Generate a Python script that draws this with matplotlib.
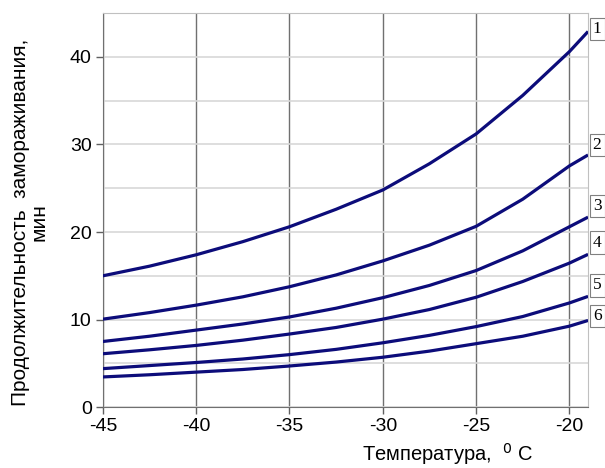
import matplotlib.pyplot as plt
import matplotlib.transforms as mtransforms

# Temperature points, deg C
temps = [-45, -42.5, -40, -37.5, -35, -32.5, -30, -27.5, -25, -22.5, -20, -19]

# Freezing duration, min (curves 1..6)
curve1 = [15.0, 16.1, 17.4, 18.9, 20.6, 22.6, 24.8, 27.8, 31.2, 35.6, 40.6, 42.9]
curve2 = [10.05, 10.8, 11.65, 12.6, 13.75, 15.1, 16.7, 18.5, 20.65, 23.75, 27.55, 28.8]
curve3 = [7.5, 8.1, 8.8, 9.5, 10.3, 11.3, 12.5, 13.9, 15.6, 17.85, 20.6, 21.7]
curve4 = [6.1, 6.55, 7.05, 7.65, 8.35, 9.1, 10.05, 11.15, 12.55, 14.35, 16.45, 17.45]
curve5 = [4.4, 4.75, 5.1, 5.5, 6.0, 6.6, 7.35, 8.2, 9.2, 10.35, 11.9, 12.65]
curve6 = [3.45, 3.7, 4.0, 4.3, 4.7, 5.15, 5.7, 6.4, 7.25, 8.1, 9.25, 9.9]

curves = [curve1, curve2, curve3, curve4, curve5, curve6]
labels = ["1", "2", "3", "4", "5", "6"]
label_y = [43.2, 29.9, 23.0, 18.8, 13.9, 10.4]

plt.rcParams['font.family'] = ['Liberation Sans', 'DejaVu Sans']
plt.rcParams['axes.unicode_minus'] = False

fig = plt.figure(figsize=(6.05, 4.68), dpi=100)
ax = fig.add_axes([0.170, 0.130, 0.802, 0.842])

for c in curves:
    ax.plot(temps, c, color='#0c0c7a', lw=2.3, solid_capstyle='butt',
            solid_joinstyle='round', zorder=3)

ax.set_xlim(-45, -19)
ax.set_ylim(0, 45)
ax.set_xticks([-45, -40, -35, -30, -25, -20])
ax.set_yticks([0, 10, 20, 30, 40])
ax.set_yticks([5, 15, 25, 35, 45], minor=True)
ax.tick_params(axis='both', labelsize=14, direction='out', length=5,
               color='#606060', width=1, pad=3)
ax.tick_params(axis='y', which='minor', length=0)

ax.grid(axis='y', which='both', color='#d8d8d8', lw=1.2)
ax.grid(axis='x', color='#707070', lw=1)
ax.set_axisbelow(True)

for side in ['left', 'bottom']:
    ax.spines[side].set_color('#707070')
for side in ['top', 'right']:
    ax.spines[side].set_color('#c0c0c0')

ax.set_ylabel("Продолжительность  замораживания,\nмин", fontsize=15,
              linespacing=0.95)
ax.yaxis.set_label_coords(-0.112, 0.47)
ax.set_xlabel("Температура,  $^{0}$ C", fontsize=14.5)
ax.xaxis.set_label_coords(0.71, -0.085)

trans = mtransforms.blended_transform_factory(ax.transAxes, ax.transData)
for lab, y in zip(labels, label_y):
    ax.text(1.0186, y, lab, transform=trans, fontsize=12.5,
            family='Liberation Serif', ha='center', va='center',
            bbox=dict(boxstyle='square,pad=0.18', fc='white', ec='#808080', lw=0.8),
            clip_on=False)

plt.savefig("out.png", dpi=100)
